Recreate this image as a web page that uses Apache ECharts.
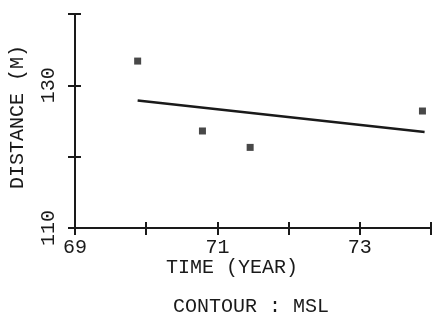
<!DOCTYPE html>
<html>
<head>
<meta charset="utf-8">
<script src="https://cdn.jsdelivr.net/npm/echarts@6/dist/echarts.min.js"></script>
<style>
  html, body { margin: 0; padding: 0; background: #fff; }
  #chart { width: 434px; height: 324px; }
</style>
</head>
<body>
<div id="chart"></div>
<script>
// Survey observations: distance to the MSL contour per year
const obsYears = [69.88, 70.79, 71.46, 73.88];
const obsDistance = [133.4, 123.6, 121.3, 126.4];

// Fitted trend line end points
const trendYears = [69.88, 73.91];
const trendDistance = [127.86, 123.47];

// Axis ranges and labelled ticks
const xRange = [69, 74];
const yRange = [110, 140];
const xTickLabels = [69, 71, 73];
const yTickLabels = [110, 130];

const FONT = 'Liberation Mono';
const INK = '#1a1a1a';

const chart = echarts.init(document.getElementById('chart'), null, { renderer: 'canvas' });

const baseAxisLine = { show: true, onZero: false, lineStyle: { color: INK, width: 2 } };

chart.setOption({
  backgroundColor: '#fff',
  animation: false,
  grid: { left: 75, right: 3, top: 14, bottom: 96, containLabel: false },
  xAxis: [
    {
      type: 'value', min: xRange[0], max: xRange[1], interval: 1,
      axisLine: baseAxisLine,
      axisTick: { show: true, length: 7, lineStyle: { color: INK, width: 2 } },
      splitLine: { show: false },
      axisLabel: {
        show: true, margin: 10, color: INK, fontFamily: FONT, fontSize: 20,
        formatter: v => (xTickLabels.includes(Math.round(v)) ? String(Math.round(v)) : '')
      }
    },
    {
      type: 'value', min: xRange[0], max: xRange[1], interval: 1, position: 'bottom',
      axisLine: { show: false, onZero: false },
      axisTick: { show: true, inside: true, length: 6, lineStyle: { color: INK, width: 2 } },
      splitLine: { show: false },
      axisLabel: { show: false }
    }
  ],
  yAxis: [
    {
      type: 'value', min: yRange[0], max: yRange[1], interval: 10,
      axisLine: baseAxisLine,
      axisTick: { show: true, length: 7, lineStyle: { color: INK, width: 2 } },
      splitLine: { show: false },
      axisLabel: {
        show: true, rotate: 90, margin: 16, color: INK, fontFamily: FONT, fontSize: 20,
        formatter: v => (yTickLabels.includes(Math.round(v)) ? String(Math.round(v)) : '')
      }
    },
    {
      type: 'value', min: yRange[0], max: yRange[1], interval: 10, position: 'left',
      axisLine: { show: false, onZero: false },
      axisTick: { show: true, inside: true, length: 6, lineStyle: { color: INK, width: 2 } },
      splitLine: { show: false },
      axisLabel: { show: false }
    }
  ],
  graphic: [
    {
      type: 'text', left: 'center', x: 0, top: 258,
      style: { text: 'TIME (YEAR)', fill: INK, font: '20px "' + FONT + '"' },
      left: 166
    },
    {
      type: 'text', left: 173, top: 297,
      style: { text: 'CONTOUR : MSL', fill: INK, font: '20px "' + FONT + '"' }
    },
    {
      type: 'text', x: 8, y: 117, rotation: Math.PI / 2,
      style: { text: 'DISTANCE (M)', fill: INK, font: '20px "' + FONT + '"', align: 'center', verticalAlign: 'top' }
    }
  ],
  series: [
    {
      type: 'line',
      xAxisIndex: 0, yAxisIndex: 0,
      data: trendYears.map((x, i) => [x, trendDistance[i]]),
      showSymbol: false,
      lineStyle: { color: INK, width: 2.5 }
    },
    {
      type: 'scatter',
      xAxisIndex: 0, yAxisIndex: 0,
      data: obsYears.map((x, i) => [x, obsDistance[i]]),
      symbol: 'rect', symbolSize: 7,
      itemStyle: { color: INK }
    }
  ]
});
</script>
</body>
</html>
